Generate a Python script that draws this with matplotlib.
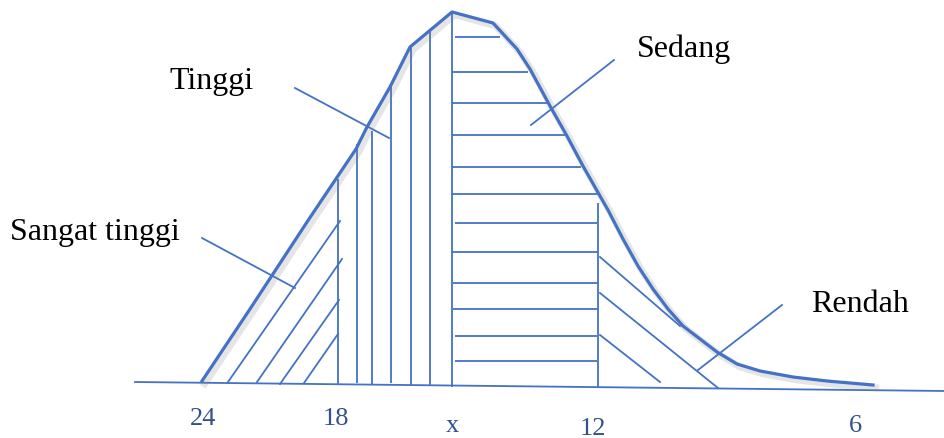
import matplotlib.pyplot as plt
import matplotlib.patheffects as pe

# diagram drawn in image units (x to the right, y downwards)
W, H = 945, 439

curve_x = [202, 250, 309, 356, 367, 390, 410, 428, 452, 493, 517, 530, 550,
           567, 583, 600, 608, 623, 638, 653, 668, 683, 700, 717, 737, 760,
           793, 827, 873]
curve_y = [382, 310, 220, 150, 128, 88, 48, 33, 13, 24, 50, 70, 107,
           137, 167, 197, 211, 240, 267, 290, 310, 327, 340, 353, 365, 372,
           378, 382, 386]

base_x = [135, 945]
base_y = [383, 392]

# Sangat tinggi: slanted hatch  (x0, y0, x1, y1)
sangat_hatch = [(228, 383, 340, 222), (257, 383, 342, 260),
                (280, 385, 339, 301), (304, 384, 338, 335)]

# Tinggi: vertical hatch  (x, top, bottom)
tinggi_x = [338, 357, 372, 391, 411, 430, 452]
tinggi_top = [180, 145, 132, 87, 48, 33, 13]
tinggi_bottom = [385, 384, 385, 384, 386, 386, 388]

# Sedang: horizontal hatch  (y, left, right)
sedang_y = [38, 73, 104, 136, 168, 195, 224, 253, 284, 310, 337, 362]
sedang_left = [455, 452, 452, 452, 452, 452, 455, 452, 453, 453, 455, 455]
sedang_right = [500, 528, 547, 565, 581, 599, 597, 598, 598, 598, 597, 597]
sedang_edge = (598, 204, 389)

# Rendah: slanted hatch
rendah_hatch = [(600, 258, 680, 327), (600, 294, 718, 389), (600, 336, 660, 383)]

# label pointers
pointers = [(295, 89, 389, 139), (202, 239, 295, 289),
            (531, 126, 614, 61), (698, 371, 782, 306)]

labels = ["Tinggi", "Sangat tinggi", "Sedang", "Rendah"]
label_x = [169, 10, 637, 811]
label_y = [89, 240, 57, 312]

ticks = ["24", "18", "x", "12", "6"]
tick_x = [203, 336, 452, 593, 855]
tick_y = [425, 425, 432, 435, 432]

blue = "#4472C4"
tick_color = "#34508F"

fig = plt.figure(figsize=(W / 100, H / 100), dpi=100)
ax = fig.add_axes([0, 0, 1, 1])
ax.set_xlim(0, W)
ax.set_ylim(H, 0)
ax.axis("off")

lw = 1.3
ax.plot(base_x, base_y, color=blue, lw=lw)

for x0, y0, x1, y1 in sangat_hatch + rendah_hatch + pointers:
    ax.plot([x0, x1], [y0, y1], color=blue, lw=lw)

ax.vlines(tinggi_x, tinggi_top, tinggi_bottom, color=blue, lw=lw)
ax.hlines(sedang_y, sedang_left, sedang_right, color=blue, lw=lw)
ax.vlines(sedang_edge[0], sedang_edge[1], sedang_edge[2], color=blue, lw=lw)

ax.plot(curve_x, curve_y, color=blue, lw=2.3, solid_joinstyle="round",
        path_effects=[pe.SimpleLineShadow(offset=(2, -2), shadow_color="gray",
                                          alpha=0.2, linewidth=5),
                      pe.Normal()])

for s, x, y in zip(labels, label_x, label_y):
    ax.text(x, y, s, fontsize=23, family="Liberation Serif",
            ha="left", va="baseline", color="black")

for s, x, y in zip(ticks, tick_x, tick_y):
    ax.text(x, y, s, fontsize=19, family="Liberation Serif",
            ha="center", va="baseline", color=tick_color)

fig.savefig("out.png", dpi=100)
